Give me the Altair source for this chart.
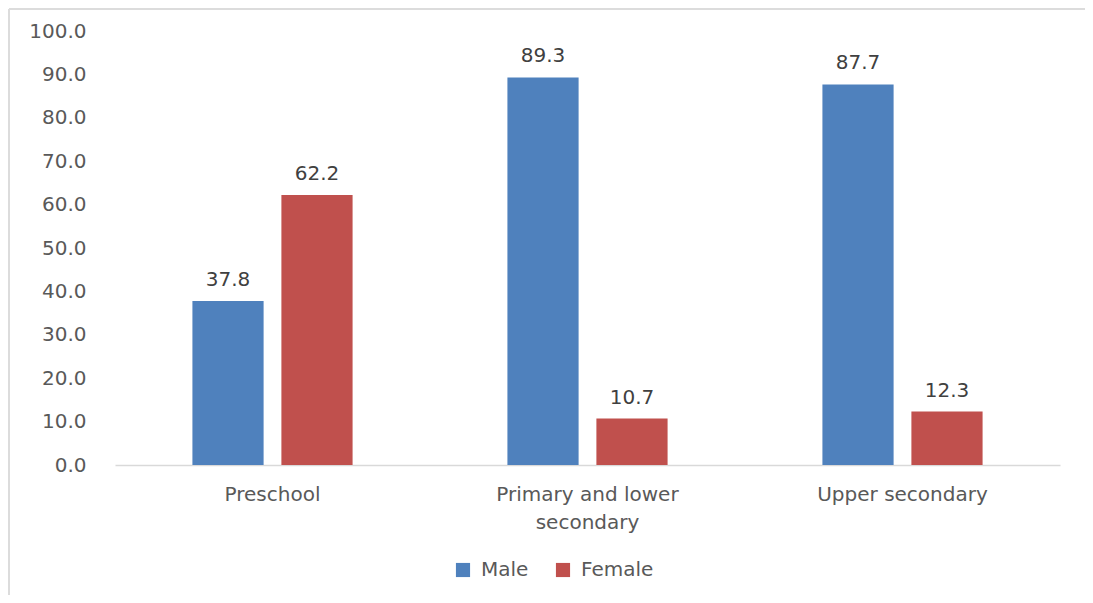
import altair as alt
import pandas as pd

categories = ["Preschool", "Primary and lower secondary", "Upper secondary"]
series = ["Male", "Female"]
male = [37.8, 89.3, 87.7]
female = [62.2, 10.7, 12.3]
y_ticks = [0, 10, 20, 30, 40, 50, 60, 70, 80, 90, 100]

rows = []
for i, c in enumerate(categories):
    rows.append({"category": c, "sex": "Male", "value": male[i]})
    rows.append({"category": c, "sex": "Female", "value": female[i]})
df = pd.DataFrame(rows)

FONT = "DejaVu Sans"
GRAY = "#595959"
FS = 20

x_enc = alt.X(
    "category:N",
    sort=categories,
    scale=alt.Scale(paddingInner=0, paddingOuter=0),
    axis=alt.Axis(
        title=None,
        labelAngle=0,
        ticks=False,
        domainColor="#d9d9d9",
        domainWidth=1.5,
        labelPadding=19,
        labelFontSize=FS,
        labelFont=FONT,
        labelColor=GRAY,
        labelLineHeight=28,
        labelLimit=400,
        labelBaseline="top",
        labelExpr="datum.label == 'Primary and lower secondary' ? ['Primary and lower', 'secondary'] : datum.label",
    ),
)
xoff = alt.XOffset("sex:N", sort=series, scale=alt.Scale(paddingInner=0.2, paddingOuter=0.87))
y_enc = alt.Y(
    "value:Q",
    scale=alt.Scale(domain=[0, 100], nice=False),
    axis=alt.Axis(
        title=None,
        values=y_ticks,
        format=".1f",
        domain=False,
        ticks=False,
        grid=False,
        labelPadding=29,
        labelFontSize=FS,
        labelFont=FONT,
        labelColor=GRAY,
    ),
)
color = alt.Color(
    "sex:N",
    sort=series,
    scale=alt.Scale(domain=series, range=["#4F81BD", "#C0504D"]),
    legend=alt.Legend(
        title=None,
        orient="none",
        legendX=338,
        legendY=529,
        direction="horizontal",
        symbolType="square",
        symbolSize=200,
        symbolStrokeWidth=0,
        labelFontSize=FS,
        labelFont=FONT,
        labelColor=GRAY,
        labelOffset=8,
        columnPadding=24,
    ),
)

base = alt.Chart(df)
bars = base.mark_bar().encode(x=x_enc, xOffset=xoff, y=y_enc, color=color)
labels = base.mark_text(dy=-15, baseline="alphabetic", fontSize=FS, font=FONT, color="#404040").encode(
    x=alt.X("category:N", sort=categories), xOffset=xoff, y="value:Q", text=alt.Text("value:Q", format=".1f")
)

frame_data = alt.Data(values=[{"k": 1}])
left_border = alt.Chart(frame_data).mark_rule(color="#dcdcdc", strokeWidth=2).encode(
    x=alt.value(-106), y=alt.value(-22), y2=alt.value(600)
)
top_border = alt.Chart(frame_data).mark_rule(color="#dcdcdc", strokeWidth=2).encode(
    x=alt.value(-106), x2=alt.value(990), y=alt.value(-22)
)

chart = alt.layer(bars, labels, left_border, top_border).properties(
    width=945,
    height=434,
    autosize=alt.AutoSizeParams(type="none"),
    padding={"left": 107, "top": 23, "right": 25, "bottom": 130},
).configure(background="white").configure_view(strokeWidth=0, stroke="transparent")

chart.save("out.html", embed_options={"renderer": "svg", "actions": False})
